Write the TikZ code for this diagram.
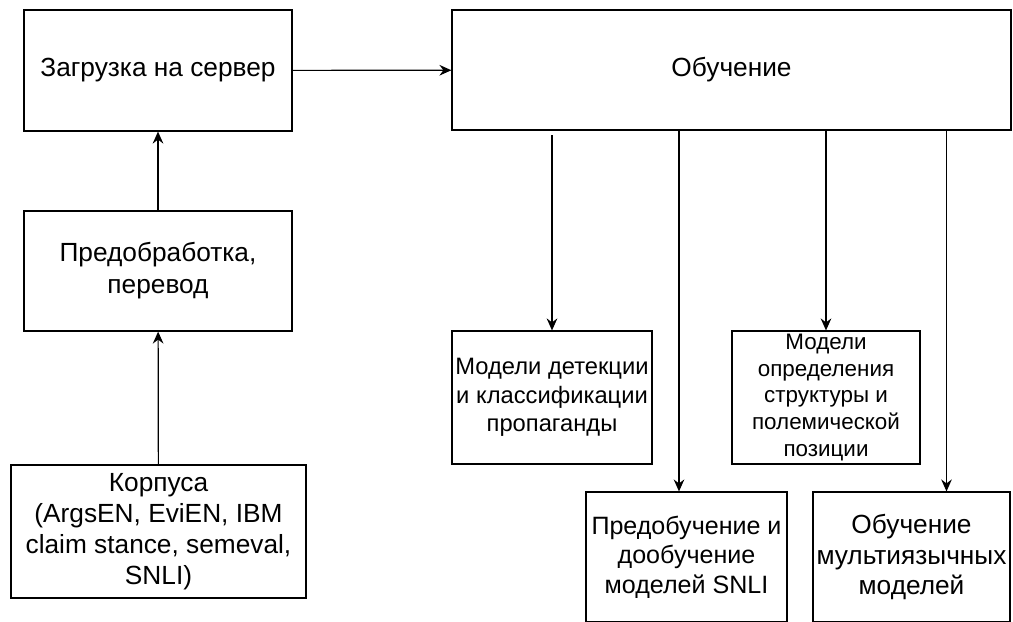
\documentclass[tikz,border=0pt]{standalone}
\usepackage{fontspec}
\setmainfont{Liberation Sans}
\usetikzlibrary{arrows.meta,calc}

\begin{document}
\begin{tikzpicture}[
  x=0.75pt, y=-0.75pt,
  box/.style={draw, line width=0.9pt, align=center, inner sep=0pt, font=\fontsize{19.7}{23.2}\selectfont},
  arrow/.style={-{Stealth[length=9pt,width=8pt,inset=3pt]}, line width=0.9pt}
]
\clip (0,0) rectangle (1013,621);

% Left column
\node[box, minimum width=201pt, minimum height=90.75pt] (upload) at (158,70.5) {Загрузка на сервер};
\node[box, minimum width=201pt, minimum height=90pt, font=\fontsize{19.7}{24}\selectfont] (prep) at (158,271) {Предобработка,\\перевод};
\node[box, minimum width=221.25pt, minimum height=99.75pt] (corp) at (158.5,531.5) {Корпуса\\(ArgsEN, EviEN, IBM\\claim stance, semeval,\\SNLI)};

% Training
\node[box, minimum width=419.25pt, minimum height=90pt] (train) at (731.5,70) {Обучение};

% Models
\node[box, minimum width=150pt, minimum height=99.75pt, font=\fontsize{17.8}{21.2}\selectfont] (det) at (552,397.5) {Модели детекции\\и классификации\\пропаганды};
\node[box, minimum width=141pt, minimum height=99.75pt, font=\fontsize{16.8}{20.1}\selectfont] (struct) at (826,397.5) {Модели\\определения\\структуры и\\полемической\\позиции};
\node[box, minimum width=150.75pt, minimum height=97.5pt, font=\fontsize{18.8}{22}\selectfont] (pre) at (686.5,557) {Предобучение и\\дообучение\\моделей SNLI};
\node[box, minimum width=147.75pt, minimum height=97.5pt] (multi) at (911.5,557) {Обучение\\мультиязычных\\моделей};

% Arrows
\draw[arrow] (corp) -- (prep);
\draw[arrow] (prep) -- (upload);
\draw[arrow] (upload) -- (train);

\coordinate (preIn) at ($(pre.north)+(-7.5,0)$);
\coordinate (multiIn) at ($(multi.north)+(35,0)$);
\draw[arrow, shorten <=3.5pt] (train.south -| det.north) -- (det.north);
\draw[arrow] (train.south -| preIn) -- (preIn);
\draw[arrow] (train.south -| struct.north) -- (struct.north);
\draw[arrow] (train.south -| multiIn) -- (multiIn);

\end{tikzpicture}
\end{document}
